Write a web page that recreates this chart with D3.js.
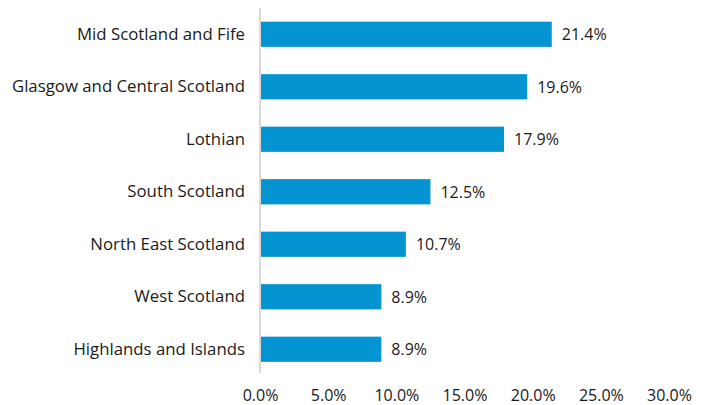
<!DOCTYPE html>
<html>
<head>
<meta charset="utf-8">
<script src="https://cdn.jsdelivr.net/npm/d3@7"></script>
<style>
  body { margin: 0; background: #fff; }
  svg { display: block; }
  text { font-family: "Open Sans", "DejaVu Sans", sans-serif; fill: #1a1a1a; }
</style>
</head>
<body>
<svg id="chart" width="704" height="405"></svg>
<script>
const regions = [
  "Mid Scotland and Fife",
  "Glasgow and Central Scotland",
  "Lothian",
  "South Scotland",
  "North East Scotland",
  "West Scotland",
  "Highlands and Islands"
];
const shares = [21.4, 19.6, 17.9, 12.5, 10.7, 8.9, 8.9];
const tickValues = [0, 5, 10, 15, 20, 25, 30];

const svg = d3.select("#chart");
const x = d3.scaleLinear().domain([0, 30]).range([260, 669]);
const y = d3.scaleBand().domain(regions).range([8, 375.5])
  .paddingInner(0.52).paddingOuter(0.26);

// bars
svg.append("g").selectAll("rect")
  .data(regions)
  .join("rect")
  .attr("x", x(0))
  .attr("y", d => y(d))
  .attr("width", (d, i) => x(shares[i]) - x(0))
  .attr("height", y.bandwidth())
  .attr("fill", "#0394d1");

// value labels
svg.append("g").selectAll("text")
  .data(regions)
  .join("text")
  .attr("x", (d, i) => x(shares[i]) + 10)
  .attr("y", d => y(d) + y.bandwidth() / 2)
  .attr("dy", "0.36em")
  .attr("font-size", 16)
  .text((d, i) => shares[i].toFixed(1) + "%");

// category axis
const yAxis = svg.append("g")
  .attr("transform", `translate(${x(0)},0)`)
  .call(d3.axisLeft(y).tickSize(0).tickPadding(15));
yAxis.select(".domain").remove();
yAxis.append("line")
  .attr("x1", 0).attr("x2", 0)
  .attr("y1", 8).attr("y2", 373)
  .attr("stroke", "#d9d9d9").attr("stroke-width", 2);
yAxis.selectAll("text")
  .attr("font-size", 16.8)
  .attr("font-family", null)
  .attr("fill", "#1a1a1a");

// value axis
const xAxis = svg.append("g")
  .attr("transform", "translate(0,385)")
  .call(d3.axisBottom(x).tickValues(tickValues).tickSize(0).tickPadding(5)
    .tickFormat(d => d.toFixed(1) + "%"));
xAxis.select(".domain").remove();
xAxis.selectAll("text")
  .attr("font-size", 16)
  .attr("font-family", null)
  .attr("fill", "#1a1a1a");
</script>
</body>
</html>
